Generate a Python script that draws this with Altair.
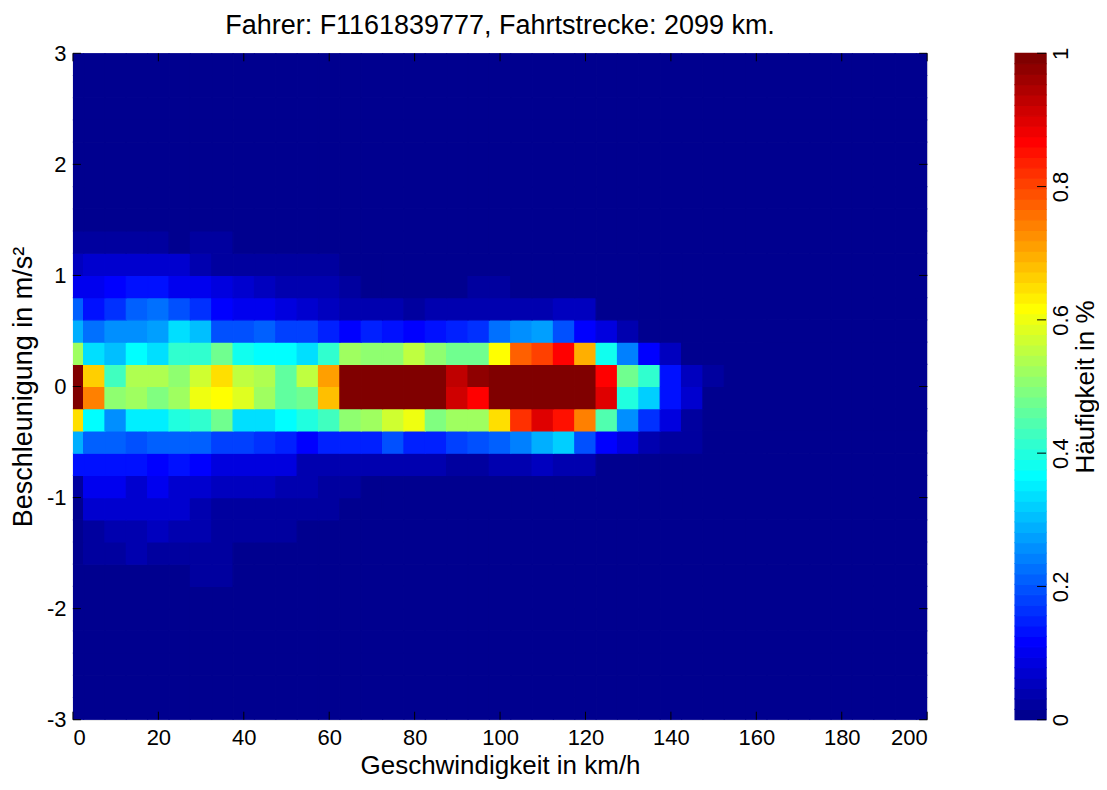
import altair as alt
import pandas as pd

# ---------------- data ----------------
title_text = "Fahrer: F1161839777, Fahrtstrecke: 2099 km."
x_title = "Geschwindigkeit in km/h"
y_title = "Beschleunigung in m/s²"
c_title = "Häufigkeit in %"

x_ticks = [0, 20, 40, 60, 80, 100, 120, 140, 160, 180, 200]
y_ticks = [-3, -2, -1, 0, 1, 2, 3]
c_ticks = [0, 0.2, 0.4, 0.6, 0.8, 1]

# speed bin centres (km/h), bin width 5
speed_centers = [0, 5, 10, 15, 20, 25, 30, 35, 40, 45, 50, 55, 60, 65, 70, 75, 80,
                 85, 90, 95, 100, 105, 110, 115, 120, 125, 130, 135, 140, 145, 150,
                 155, 160, 165, 170, 175, 180, 185, 190, 195, 200]
# acceleration bin lower edges (m/s^2), bin height 0.2
accel_edges = [-3.0, -2.8, -2.6, -2.4, -2.2, -2.0, -1.8, -1.6, -1.4, -1.2, -1.0,
               -0.8, -0.6, -0.4, -0.2, 0.0, 0.2, 0.4, 0.6, 0.8, 1.0, 1.2, 1.4,
               1.6, 1.8, 2.0, 2.2, 2.4, 2.6, 2.8]

# frequency per row, starting at speed 0 (cells not listed are empty)
acc_p12 = [0.023, 0.023, 0.023, 0.023, 0.023, 0.01, 0.023, 0.023]
acc_p10 = [0.06, 0.075, 0.065, 0.075, 0.075, 0.065, 0.045, 0.03, 0.03, 0.025, 0.02,
           0.02, 0.02, 0.01]
acc_p08 = [0.1, 0.1, 0.117, 0.125, 0.125, 0.1, 0.095, 0.08, 0.07, 0.055, 0.045, 0.04,
           0.035, 0.02, 0, 0, 0, 0, 0, 0.023, 0.023]
acc_p06 = [0.21, 0.133, 0.164, 0.21, 0.22, 0.195, 0.164, 0.11, 0.1, 0.095, 0.086,
           0.075, 0.06, 0.045, 0.04, 0.04, 0.02, 0.045, 0.045, 0.045, 0.045, 0.045,
           0.035, 0.055, 0.055]
acc_p04 = [0.289, 0.227, 0.258, 0.258, 0.273, 0.34, 0.305, 0.2, 0.195, 0.21, 0.18,
           0.18, 0.148, 0.117, 0.148, 0.125, 0.117, 0.133, 0.148, 0.164, 0.227, 0.258,
           0.273, 0.2, 0.117, 0.086, 0.039]
acc_p02 = [0.523, 0.336, 0.305, 0.367, 0.336, 0.414, 0.414, 0.477, 0.383, 0.367, 0.36,
           0.336, 0.414, 0.523, 0.508, 0.508, 0.555, 0.508, 0.477, 0.477, 0.617, 0.773,
           0.81, 0.87, 0.695, 0.383, 0.242, 0.117, 0.055]
acc_p00 = [1.1, 0.664, 0.43, 0.54, 0.535, 0.508, 0.565, 0.65, 0.555, 0.54, 0.46, 0.555,
           0.71, 1.1, 1.1, 1.1, 1.1, 1.1, 0.93, 0.97, 1.1, 1.1, 1.1, 1.1, 1.1, 0.87,
           0.477, 0.414, 0.133, 0.055, 0.023, 0.01]
acc_m02 = [1.1, 0.742, 0.508, 0.523, 0.49, 0.523, 0.6, 0.617, 0.586, 0.523, 0.46, 0.477,
           0.68, 1.1, 1.1, 1.1, 1.1, 1.1, 0.914, 0.867, 1.1, 1.1, 1.1, 1.1, 1.1, 0.9,
           0.398, 0.32, 0.133, 0.07, 0.01]
acc_m04 = [0.648, 0.367, 0.258, 0.345, 0.345, 0.398, 0.414, 0.477, 0.336, 0.336, 0.367,
           0.4, 0.43, 0.508, 0.523, 0.57, 0.6, 0.49, 0.523, 0.523, 0.648, 0.82, 0.9,
           0.85, 0.742, 0.445, 0.258, 0.164, 0.086, 0.023]
acc_m06 = [0.289, 0.21, 0.21, 0.195, 0.21, 0.21, 0.21, 0.18, 0.18, 0.164, 0.148, 0.117,
           0.148, 0.148, 0.148, 0.195, 0.148, 0.148, 0.18, 0.195, 0.21, 0.242, 0.289,
           0.32, 0.195, 0.117, 0.086, 0.039, 0.023, 0.02]
acc_m08 = [0.133, 0.133, 0.133, 0.125, 0.11, 0.125, 0.117, 0.09, 0.08, 0.08, 0.08, 0.045,
           0.045, 0.04, 0.04, 0.04, 0.04, 0.04, 0.03, 0.03, 0.035, 0.045, 0.06, 0.035,
           0.035]
acc_m10 = [0.03, 0.1, 0.1, 0.075, 0.1, 0.07, 0.07, 0.055, 0.05, 0.05, 0.045, 0.035,
           0.03, 0.025]
acc_m12 = [0.01, 0.07, 0.07, 0.07, 0.07, 0.07, 0.035, 0.025, 0.025, 0.025, 0.02, 0.025,
           0.02, 0.01]
acc_m14 = [0.01, 0.023, 0.039, 0.039, 0.055, 0.039, 0.039, 0.023, 0.023, 0.02, 0.02,
           0.01, 0.01, 0.01]
acc_m16 = [0.01, 0.02, 0.025, 0.04, 0.02, 0.02, 0.02, 0.02, 0.01]
acc_m18 = [0.005, 0.01, 0.01, 0.01, 0.01, 0.01, 0.025, 0.025]

rows = {1.2: acc_p12, 1.0: acc_p10, 0.8: acc_p08, 0.6: acc_p06, 0.4: acc_p04,
        0.2: acc_p02, 0.0: acc_p00, -0.2: acc_m02, -0.4: acc_m04, -0.6: acc_m06,
        -0.8: acc_m08, -1.0: acc_m10, -1.2: acc_m12, -1.4: acc_m14, -1.6: acc_m16,
        -1.8: acc_m18}

# ---------------- colormap (MATLAB jet, 64 levels) ----------------
def _clip(v):
    return max(0.0, min(1.0, v))

jet = []
for r in range(1, 65):
    R = _clip(min((r - 24) / 16, 1 - (r - 56) / 16))
    G = _clip(min((r - 8) / 16, 1 - (r - 40) / 16))
    B = _clip(min((r + 8) / 16, 1 - (r - 24) / 16))
    jet.append("#%02x%02x%02x" % (round(R * 255), round(G * 255), round(B * 255)))

color_scale = alt.Scale(type="quantize", domain=[0, 1], range=jet)

# ---------------- table ----------------
records = []
for lo in accel_edges:
    vals = rows.get(lo, [])
    for k, c in enumerate(speed_centers):
        records.append({"v": c, "a": lo, "h": vals[k] if k < len(vals) else 0.0})
df = pd.DataFrame(records)

FONT = "Liberation Sans"
W, H = 855, 667
TICK = 8

x_scale = alt.Scale(domain=[0, 200], nice=False, zero=False)
y_scale = alt.Scale(domain=[-3, 3], nice=False, zero=False)

x_axis = alt.Axis(values=x_ticks, labelExpr="datum.value + ''", ticks=False,
                  domain=False, grid=False, labelFontSize=22, labelPadding=8,
                  labelColor="black", title=x_title, titleFontSize=26,
                  titleFontWeight="normal", titleColor="black", titlePadding=4,
                  labelFont=FONT, titleFont=FONT)
y_axis = alt.Axis(values=y_ticks, labelExpr="datum.value + ''", ticks=False,
                  domain=False, grid=False, labelFontSize=22, labelPadding=7,
                  labelColor="black", title=y_title, titleFontSize=27,
                  titleFontWeight="normal", titleColor="black", titlePadding=9,
                  labelFont=FONT, titleFont=FONT)

heat = alt.Chart(df).transform_calculate(
    x0="datum.v - 2.5", x1="datum.v + 2.5", y1="datum.a + 0.2"
).mark_rect(clip=True, strokeWidth=1.2).encode(
    x=alt.X("x0:Q", scale=x_scale, axis=x_axis, title=x_title),
    x2="x1:Q",
    y=alt.Y("a:Q", scale=y_scale, axis=y_axis, title=y_title),
    y2="y1:Q",
    color=alt.Color("h:Q", scale=color_scale, legend=None),
    stroke=alt.Color("h:Q", scale=color_scale, legend=None),
)

xt = pd.DataFrame({"t": x_ticks})
yt = pd.DataFrame({"t": y_ticks})
tick_bottom = alt.Chart(xt).mark_rule(color="black", strokeWidth=1).encode(
    x=alt.X("t:Q", scale=x_scale, axis=x_axis, title=x_title),
    y=alt.value(H), y2=alt.value(H - TICK))
tick_top = alt.Chart(xt).mark_rule(color="black", strokeWidth=1).encode(
    x=alt.X("t:Q", scale=x_scale, axis=x_axis, title=x_title),
    y=alt.value(0), y2=alt.value(TICK))
tick_left = alt.Chart(yt).mark_rule(color="black", strokeWidth=1).encode(
    y=alt.Y("t:Q", scale=y_scale, axis=y_axis, title=y_title),
    x=alt.value(0), x2=alt.value(TICK))
tick_right = alt.Chart(yt).mark_rule(color="black", strokeWidth=1).encode(
    y=alt.Y("t:Q", scale=y_scale, axis=y_axis, title=y_title),
    x=alt.value(W), x2=alt.value(W - TICK))

main = alt.layer(heat, tick_bottom, tick_top, tick_left, tick_right).properties(
    width=W, height=H,
    title=alt.TitleParams(title_text, fontSize=27, fontWeight="normal", font=FONT,
                          color="black", anchor="middle", frame="group", offset=2),
)

# ---------------- colour bar ----------------
cb = pd.DataFrame({"lo": [i / 64 for i in range(64)]})
CBW = 31
c_scale = alt.Scale(domain=[0, 1], nice=False, zero=False)
c_axis = alt.Axis(orient="right", values=c_ticks, labelExpr="datum.value + ''",
                  ticks=False, domain=False, grid=False, labelFontSize=22,
                  labelAngle=270, labelAlign="center", labelBaseline="top",
                  labelPadding=4, labelColor="black", labelFont=FONT,
                  title=c_title, titleFontSize=26, titleFontWeight="normal",
                  titleColor="black", titleFont=FONT, titleAngle=270,
                  titleBaseline="top", titlePadding=1)
bar = alt.Chart(cb).transform_calculate(
    hi="datum.lo + 1/64", mid="datum.lo + 0.5/64"
).mark_rect(strokeWidth=1.2).encode(
    y=alt.Y("lo:Q", scale=c_scale, axis=c_axis, title=c_title),
    y2="hi:Q",
    x=alt.value(0), x2=alt.value(CBW),
    color=alt.Color("mid:Q", scale=color_scale, legend=None),
    stroke=alt.Color("mid:Q", scale=color_scale, legend=None),
)
ct = pd.DataFrame({"t": c_ticks})
cb_ticks = alt.Chart(ct).mark_rule(color="black", strokeWidth=1).encode(
    y=alt.Y("t:Q", scale=c_scale, axis=c_axis, title=c_title),
    x=alt.value(CBW - 9), x2=alt.value(CBW))
colorbar = alt.layer(bar, cb_ticks).properties(width=CBW, height=H)

chart = alt.hconcat(main, colorbar, spacing=88, bounds="flush").resolve_scale(
    color="independent", stroke="independent"
).configure_view(stroke="#303030", strokeWidth=1, fill=jet[0]).configure(
    background="white", padding={"left": 0, "top": 3, "right": 0, "bottom": 0}
)

chart.save("out.html", embed_options={"renderer": "svg", "actions": False})
